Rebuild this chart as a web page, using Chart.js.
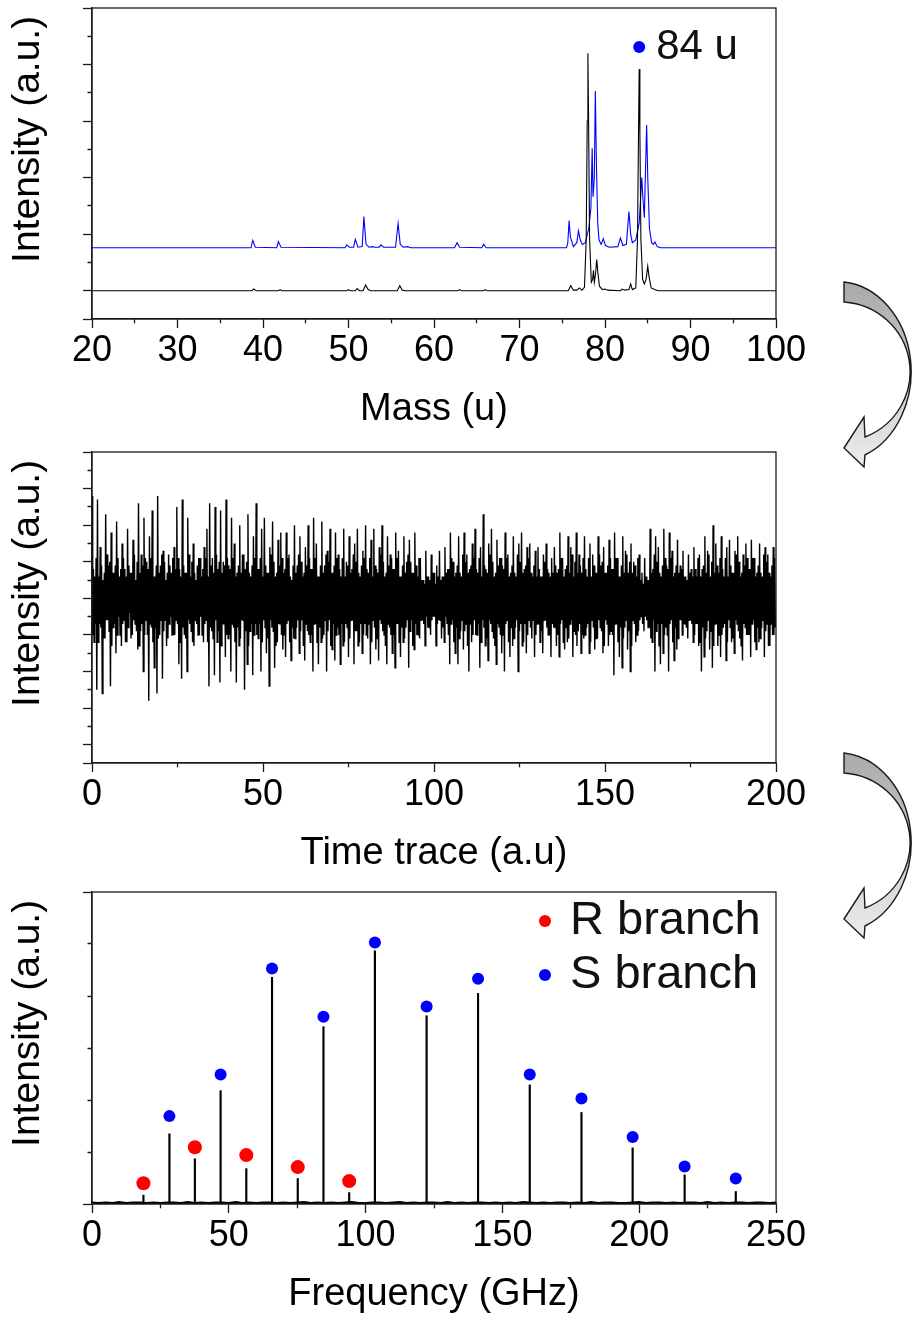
<!DOCTYPE html>
<html>
<head>
<meta charset="utf-8">
<title>Mass spectrum, time trace and rotational spectrum</title>
<script src="https://cdn.jsdelivr.net/npm/chart.js@4.4.1/dist/chart.umd.min.js"></script>
<style>
  html, body { margin: 0; padding: 0; background: #fff; }
  #wrap { position: relative; width: 912px; height: 1317px; overflow: hidden; }
  #wrap canvas { position: absolute; left: 0; }
  #arrows { position: absolute; left: 0; top: 0; pointer-events: none; }
</style>
</head>
<body>
<div id="wrap">
  <canvas id="massChart" width="912" height="440" style="top:0"></canvas>
  <canvas id="traceChart" width="912" height="440" style="top:440px"></canvas>
  <canvas id="freqChart" width="912" height="437" style="top:880px"></canvas>
  <svg id="arrows" width="912" height="1317" viewBox="0 0 912 1317">
    <defs>
      <linearGradient id="arrowFill" x1="0" y1="0" x2="0" y2="1">
        <stop offset="0" stop-color="#a9a9a9"/>
        <stop offset="0.45" stop-color="#c6c6c6"/>
        <stop offset="1" stop-color="#ededed"/>
      </linearGradient>
      <path id="bend" d="M 844 282 A 74 90 0 0 1 865 455 L 864 467 L 844 448 L 864 417 L 865 437 A 71 70 0 0 0 844 302 Z"
            fill="url(#arrowFill)" stroke="#1a1a1a" stroke-width="1.4" stroke-linejoin="miter"/>
    </defs>
    <use href="#bend"/>
    <use href="#bend" transform="translate(0 471)"/>
  </svg>
</div>
<script>
// ---- panel 1: mass spectra ----
const blackMass = [20, 38.7, 38.9, 39.2, 41.8, 42, 42.2, 49.8, 50, 50.2, 50.8, 51, 51.3, 51.7, 52, 52.3, 52.6,
  55.7, 56, 56.3, 56.6, 62.8, 63, 63.2, 65.8, 66, 66.2, 75.7, 76, 76.3, 76.7, 77, 77.3, 77.6, 77.8, 77.92, 78,
  78.08, 78.2, 78.4, 78.55, 78.65, 78.75, 78.9, 79.03, 79.15, 79.35, 79.7, 80, 80.3, 81.8, 82, 82.3, 82.8, 83,
  83.2, 83.6, 83.8, 83.92, 84, 84.08, 84.2, 84.4, 84.6, 84.8, 85, 85.15, 85.4, 85.8, 86.2, 100];
const blackInt = [0, 0, 0.03, 0, 0, 0.02, 0, 0, 0.02, 0, 0, 0.04, 0, 0, 0.1, 0.02, 0,
  0, 0.09, 0.01, 0, 0, 0.02, 0, 0, 0.02, 0, 0, 0.09, 0.01, 0.01, 0.05, 0.01, 0.06, 0.9, 3.0, 4.2,
  3.0, 0.9, 0.15, 0.2, 0.36, 0.15, 0.3, 0.55, 0.35, 0.08, 0.02, 0.03, 0.01, 0, 0.03, 0.01, 0.02, 0.12,
  0.02, 0.05, 0.9, 2.8, 3.92, 2.8, 0.9, 0.2, 0.12, 0.2, 0.43, 0.25, 0.05, 0.02, 0, 0];

const blueMass = [20, 38.6, 38.8, 39.1, 41.6, 41.8, 42.1, 49.6, 49.8, 50.1, 50.6, 50.8, 51.1, 51.6, 51.8, 52.05,
  52.4, 52.8, 53.1, 53.6, 53.8, 54.1, 55.5, 55.8, 56.05, 56.4, 56.9, 57.3, 62.4, 62.7, 63, 65.6, 65.8, 66.1,
  75.5, 75.65, 75.8, 75.95, 76.3, 76.7, 76.9, 77.1, 77.35, 77.7, 78.1, 78.35, 78.5, 78.6, 78.75, 78.87, 79.0,
  79.15, 79.3, 79.55, 79.8, 80.05, 80.5, 81.5, 81.8, 82.1, 82.5, 82.8, 83.0, 83.2, 83.6, 84.0, 84.3, 84.45,
  84.6, 84.75, 84.87, 85.0, 85.2, 85.45, 85.65, 85.85, 86.1, 86.5, 100];
const blueInt = [0.76, 0.76, 0.89, 0.77, 0.76, 0.87, 0.77, 0.76, 0.81, 0.77, 0.77, 0.91, 0.77, 0.78, 1.31, 0.82,
  0.77, 0.78, 0.77, 0.77, 0.81, 0.77, 0.77, 1.19, 0.82, 0.77, 0.78, 0.76, 0.76, 0.85, 0.77, 0.76, 0.82, 0.76,
  0.76, 0.85, 1.24, 0.95, 0.78, 0.85, 1.06, 0.9, 0.82, 0.85, 1.1, 1.46, 2.52, 1.66, 2.0, 3.53, 2.2,
  1.2, 0.9, 0.82, 0.92, 0.8, 0.77, 0.78, 0.93, 0.8, 0.82, 1.4, 1.0, 0.85, 0.9, 1.2, 2.0, 1.6,
  1.29, 2.2, 2.93, 2.0, 1.1, 0.85, 0.82, 0.86, 0.78, 0.76, 0.76];

const markerLabel = '84 u';
const markerMass = 84;
const markerLevel = 4.31;

// ---- panel 2: time trace, one sample every 0.2 ----
const traceStep = 0.2;
const traceSignal = [
  2.8,-1.0,0.8,-1.2, 0.6,-0.7,1.1,-2.5, 2.7,-1.2,0.6,-0.7, 1.4,-0.8,0.9,-2.6, 0.5,-1.1,0.7,-1.1, 2.3,-0.6,1.2,-0.6, 0.9,-0.9,1.0,-2.4, 1.8,-1.3,0.7,-0.8, 0.7,-0.7,0.9,-1.5, 2.1,-1.0,1.1,-0.5,
  0.6,-1.0,0.8,-1.3, 1.5,-0.7,1.1,-0.6, 0.8,-1.2,0.6,-1.2, 1.9,-0.8,0.9,-0.4, 0.7,-1.1,0.7,-1.0, 1.6,-0.6,1.2,-0.7, 0.5,-0.9,1.0,-1.4, 2.6,-1.3,0.7,-0.9, 1.2,-0.7,0.9,-2.0, 2.2,-1.0,1.1,-0.6,
  1.0,-1.0,0.8,-2.8, 1.7,-0.7,1.1,-0.8, 2.4,-1.2,0.6,-1.9, 0.6,-0.8,0.9,-2.6, 2.8,-1.1,0.7,-1.0, 0.9,-0.6,1.2,-2.2, 1.3,-0.9,1.0,-0.6, 0.5,-1.3,0.7,-1.1, 1.2,-0.7,0.9,-0.5, 0.7,-1.0,1.1,-1.0,
  1.4,-1.0,0.8,-0.6, 2.5,-0.7,1.1,-1.8, 0.8,-1.2,0.6,-2.2, 2.7,-0.8,0.9,-1.0, 0.7,-1.1,0.7,-2.0, 2.2,-0.6,1.2,-0.7, 0.6,-0.9,1.0,-1.2, 1.5,-1.3,0.7,-0.6, 0.5,-0.7,0.9,-1.0, 1.1,-1.0,1.1,-0.5,
  0.6,-1.0,0.8,-1.2, 1.4,-0.7,1.1,-0.6, 1.9,-1.2,0.6,-2.4, 2.6,-0.8,0.9,-0.9, 1.1,-1.1,0.7,-2.1, 2.5,-0.6,1.2,-1.2, 0.8,-0.9,1.0,-2.3, 2.4,-1.3,0.7,-0.7, 1.0,-0.7,0.9,-1.6, 2.7,-1.0,1.1,-1.1,
  0.9,-1.0,0.8,-2.0, 2.2,-0.7,1.1,-0.8, 1.5,-1.2,0.6,-2.3, 0.7,-0.8,0.9,-1.3, 2.0,-1.1,0.7,-0.6, 1.2,-0.6,1.2,-2.5, 0.8,-0.9,1.0,-1.8, 2.3,-1.3,0.7,-0.9, 0.6,-0.7,0.9,-2.1, 1.7,-1.0,1.1,-0.7,
  2.6,-1.0,0.8,-1.1, 0.8,-0.7,1.1,-2.0, 1.9,-1.2,0.6,-0.6, 2.2,-0.8,0.9,-1.5, 0.7,-1.1,0.7,-2.4, 1.4,-0.6,1.2,-0.8, 2.1,-0.9,1.0,-1.9, 0.6,-1.3,0.7,-1.2, 1.6,-0.7,0.9,-0.7, 1.8,-1.0,1.1,-1.4,
  0.7,-1.0,0.8,-1.6, 1.8,-0.7,1.1,-0.6, 1.2,-1.2,0.6,-1.7, 0.5,-0.8,0.9,-1.1, 2.0,-1.1,0.7,-0.8, 0.9,-0.6,1.2,-1.5, 1.7,-0.9,1.0,-0.6, 0.6,-1.3,0.7,-1.7, 1.4,-0.7,0.9,-0.9, 2.0,-1.0,1.1,-1.2,
  0.8,-1.0,0.8,-2.0, 2.2,-0.7,1.1,-0.7, 1.5,-1.2,0.6,-1.8, 0.6,-0.8,0.9,-1.2, 2.1,-1.1,0.7,-1.0, 0.9,-0.6,1.2,-2.0, 1.3,-0.9,1.0,-0.6, 1.9,-1.3,0.7,-1.4, 0.7,-0.7,0.9,-1.7, 1.8,-1.0,1.1,-0.8,
  1.2,-1.0,0.8,-1.8, 0.6,-0.7,1.1,-1.3, 1.9,-1.2,0.6,-0.7, 1.0,-0.8,0.9,-1.6, 1.7,-1.1,0.7,-0.6, 0.8,-0.6,1.2,-1.8, 1.5,-0.9,1.0,-0.9, 1.9,-1.3,0.7,-1.2, 0.6,-0.7,0.9,-1.5, 1.3,-1.0,1.1,-0.7,
  2.0,-1.0,0.8,-1.1, 0.7,-0.7,1.1,-1.8, 1.6,-1.2,0.6,-0.6, 1.9,-0.8,0.9,-1.4, 0.8,-1.1,0.7,-1.7, 1.4,-0.6,1.2,-0.7, 2.0,-0.9,1.0,-1.0, 0.6,-1.3,0.7,-1.8, 1.7,-0.7,0.9,-0.8, 1.2,-1.0,1.1,-1.5,
  0.8,-1.0,0.8,-1.9, 1.8,-0.7,1.1,-0.7, 1.3,-1.2,0.6,-1.6, 0.6,-0.8,0.9,-1.2, 1.7,-1.1,0.7,-0.8, 1.0,-0.6,1.2,-1.9, 1.6,-0.9,1.0,-0.6, 0.7,-1.3,0.7,-1.4, 1.8,-0.7,0.9,-1.0, 0.6,-1.0,1.1,-1.1,
  1.1,-0.6,0.5,-0.6, 0.5,-0.7,0.4,-1.3, 1.3,-0.5,0.6,-0.8, 0.6,-0.8,0.5,-1.0, 1.2,-0.6,0.7,-0.5, 0.7,-0.5,0.4,-1.3, 0.9,-0.7,0.6,-0.6, 1.3,-0.6,0.5,-1.1, 0.6,-0.8,0.6,-1.2, 1.4,-0.5,0.7,-0.7,
  0.8,-1.0,0.8,-1.8, 1.8,-0.7,1.1,-0.6, 1.0,-1.2,0.6,-1.5, 0.7,-0.8,0.9,-1.8, 1.7,-1.1,0.7,-0.9, 0.6,-0.6,1.2,-1.4, 1.8,-0.9,1.0,-0.7, 1.2,-1.3,0.7,-2.0, 0.8,-0.7,0.9,-1.2, 1.5,-1.0,1.1,-0.6,
  1.9,-1.0,0.8,-1.0, 0.7,-0.7,1.1,-1.9, 1.4,-1.2,0.6,-0.6, 2.3,-0.8,0.9,-1.3, 0.8,-1.1,0.7,-1.7, 1.5,-0.6,1.2,-0.7, 1.9,-0.9,1.0,-1.1, 0.6,-1.3,0.7,-1.8, 1.6,-0.7,0.9,-0.8, 1.1,-1.0,1.1,-1.5,
  0.9,-1.0,0.8,-2.0, 1.8,-0.7,1.1,-0.6, 1.2,-1.2,0.6,-1.6, 0.7,-0.8,0.9,-1.3, 1.7,-1.1,0.7,-0.8, 0.6,-0.6,1.2,-2.0, 1.5,-0.9,1.0,-0.7, 1.8,-1.3,0.7,-1.2, 0.8,-0.7,0.9,-1.5, 1.4,-1.0,1.1,-0.6,
  1.5,-0.8,0.7,-1.1, 0.6,-0.6,0.9,-1.6, 1.3,-1.0,0.6,-0.7, 1.4,-0.7,0.8,-1.2, 0.6,-0.9,0.6,-1.5, 1.2,-0.6,1.0,-0.6, 1.5,-0.8,0.8,-1.0, 0.7,-1.0,0.6,-1.6, 1.1,-0.7,0.7,-0.8, 1.4,-0.8,0.9,-1.3,
  0.7,-1.0,0.8,-1.6, 1.8,-0.7,1.1,-0.6, 1.1,-1.2,0.6,-1.4, 0.8,-0.8,0.9,-1.2, 1.7,-1.1,0.7,-0.7, 1.4,-0.6,1.2,-1.6, 0.6,-0.9,1.0,-1.0, 1.8,-1.3,0.7,-0.9, 1.2,-0.7,0.9,-1.5, 0.7,-1.0,1.1,-1.1,
  1.7,-1.0,0.8,-0.8, 0.6,-0.7,1.1,-1.5, 1.5,-1.2,0.6,-0.6, 1.2,-0.8,0.9,-1.4, 0.7,-1.1,0.7,-1.1, 1.7,-0.6,1.2,-0.8, 0.9,-0.9,1.0,-1.5, 1.4,-1.3,0.7,-0.6, 0.7,-0.7,0.9,-1.3, 1.6,-1.0,1.1,-0.9,
  0.8,-1.0,0.8,-2.1, 1.8,-0.7,1.1,-0.7, 1.1,-1.2,0.6,-1.6, 0.6,-0.8,0.9,-1.9, 1.7,-1.1,0.7,-0.8, 1.3,-0.6,1.2,-1.4, 0.7,-0.9,1.0,-2.0, 1.5,-1.3,0.7,-0.6, 1.0,-0.7,0.9,-1.2, 0.6,-1.0,1.1,-0.9,
  1.2,-0.6,0.5,-0.5, 0.7,-0.7,0.4,-0.9, 1.1,-0.5,0.6,-0.6, 0.5,-0.8,0.5,-0.8, 1.9,-1.1,0.7,-1.2, 0.8,-0.6,1.2,-2.0, 1.7,-0.9,1.0,-0.7, 1.4,-1.3,0.7,-1.8, 0.6,-0.7,0.9,-1.5, 1.9,-1.0,1.1,-0.8,
  0.9,-1.0,0.8,-2.0, 1.8,-0.7,1.1,-0.6, 1.3,-1.2,0.6,-1.7, 0.7,-0.8,0.9,-1.4, 1.6,-1.1,0.7,-0.6, 0.9,-0.6,0.8,-1.0, 1.3,-0.7,0.6,-0.7, 0.6,-0.8,0.5,-1.1, 1.2,-0.6,0.7,-0.6, 0.8,-0.7,0.6,-1.2,
  1.4,-1.0,0.8,-0.7, 0.6,-0.7,1.1,-1.3, 1.2,-1.2,0.6,-2.0, 0.8,-0.8,0.9,-1.6, 1.7,-1.1,0.7,-0.9, 1.3,-0.6,1.2,-1.4, 0.6,-0.9,1.0,-1.9, 2.0,-1.3,0.7,-0.7, 1.5,-0.7,0.9,-1.3, 0.7,-1.0,1.1,-1.6,
  1.7,-1.0,0.8,-0.8, 0.6,-0.7,1.1,-1.7, 1.4,-1.2,0.6,-0.6, 1.6,-0.8,0.9,-1.2, 0.7,-1.1,0.7,-1.5, 1.3,-0.6,1.2,-0.7, 1.7,-0.9,1.0,-1.1, 0.6,-1.3,0.7,-1.7, 1.2,-0.7,0.9,-0.8, 1.5,-1.0,1.1,-1.0,
  0.8,-1.0,0.8,-1.6, 1.6,-0.7,1.1,-0.6, 1.1,-1.2,0.6,-1.4, 0.7,-0.8,0.9,-1.2, 1.5,-1.1,0.7,-0.8, 0.6,-0.6,1.2,-1.6, 1.4,-0.9,1.0,-0.7, 1.2,-1.3,0.7,-1.3, 0.6,-0.7,0.9,-1.0, 1.4,-1.0,1.1,-0.8
];

// ---- panel 3: rotational lines ----
const rFreq = [18.8, 37.6, 56.4, 75.2, 94.0];
const rStem = [0.17, 0.87, 0.68, 0.49, 0.22];
const rDot = [0.40, 1.09, 0.94, 0.71, 0.44];
const sFreq = [28.3, 47.0, 65.8, 84.6, 103.4, 122.3, 141.1, 160.0, 178.9, 197.6, 216.6, 235.3];
const sStem = [1.35, 2.18, 4.36, 3.41, 4.87, 3.62, 4.05, 2.29, 1.76, 1.08, 0.56, 0.24];
const sDot = [1.69, 2.49, 4.53, 3.60, 5.03, 3.80, 4.33, 2.49, 2.03, 1.29, 0.72, 0.49];
// noise floor, one value every 2.5 GHz
const floorStep = 2.5;
const floorLevel = [0.03, 0.02, 0.03, 0.02, 0.04, 0.02, 0.03, 0.03, 0.02, 0.03, 0.02, 0.03, 0.03, 0.02, 0.04,
  0.02, 0.03, 0.02, 0.03, 0.03, 0.02, 0.04, 0.02, 0.03, 0.02, 0.03, 0.03, 0.02, 0.03, 0.02, 0.03, 0.04, 0.02,
  0.03, 0.02, 0.03, 0.02, 0.03, 0.04, 0.02, 0.02, 0.03, 0.03, 0.02, 0.03, 0.04, 0.02, 0.03, 0.02, 0.03, 0.03,
  0.02, 0.04, 0.02, 0.03, 0.02, 0.03, 0.03, 0.02, 0.03, 0.02, 0.03, 0.02, 0.04, 0.03, 0.02, 0.03, 0.02, 0.03,
  0.03, 0.02, 0.03, 0.02, 0.04, 0.02, 0.03, 0.03, 0.02, 0.02, 0.03, 0.04, 0.02, 0.03, 0.03, 0.02, 0.03, 0.02,
  0.03, 0.03, 0.02, 0.04, 0.02, 0.03, 0.02, 0.03, 0.03, 0.02, 0.03, 0.03, 0.02, 0.03];

// ---- shared look ----
const FONT = '"Liberation Sans", Arial, sans-serif';
const AXIS = '#1a1a1a';
Chart.defaults.font.family = FONT;
Chart.defaults.color = '#000';
Chart.defaults.animation = false;

const pts = (xs, ys) => xs.map((x, i) => ({ x, y: ys[i] }));

// short ticks: bottom axis draws away from the axis line, left axis draws toward it
function tickDash(side, isMinor) {
  return ctx => {
    if (!ctx.tick || !isMinor(ctx.tick.value, ctx.index)) return [];
    return side === 'x' ? [4, 100] : [0, 4.5, 10, 100];
  };
}

function xAxis(opts) {
  return {
    type: 'linear', min: opts.min, max: opts.max, offset: false,
    afterFit: s => { s.height = opts.height; },
    ticks: {
      stepSize: opts.step, autoSkip: false, maxRotation: 0, padding: 1,
      font: { size: 36 }, color: '#000',
      callback: v => (v % opts.labelEvery === 0 ? v : '')
    },
    grid: {
      drawOnChartArea: false, offset: false, tickLength: 9, tickWidth: 1.3, tickColor: AXIS,
      tickBorderDash: tickDash('x', v => v % opts.labelEvery !== 0)
    },
    border: { color: AXIS, width: 1.3 },
    title: { display: true, text: opts.title, font: { size: 38 }, color: '#000', padding: { top: 0, bottom: opts.titlePad } }
  };
}

function yAxis(opts) {
  return {
    type: 'linear', min: opts.min, max: opts.max,
    afterFit: s => { s.width = 92; },
    ticks: { stepSize: opts.step, display: false },
    grid: {
      drawOnChartArea: false, tickLength: 9, tickWidth: 1.3, tickColor: AXIS,
      tickBorderDash: tickDash('y', opts.isMinor)
    },
    border: { color: AXIS, width: 1.3 },
    title: {
      display: true, text: 'Intensity (a.u.)\u2009', align: 'end',
      font: { size: 39 }, color: '#000', padding: { top: 5 }
    }
  };
}

const framePlugin = {
  id: 'frame',
  afterDatasetsDraw(chart) {
    const { ctx, chartArea: a } = chart;
    ctx.save();
    ctx.strokeStyle = AXIS;
    ctx.lineWidth = 1.3;
    ctx.strokeRect(a.left, a.top, a.width, a.height);
    ctx.restore();
  }
};

const markerText = {
  id: 'markerText',
  afterDatasetsDraw(chart) {
    const meta = chart.getDatasetMeta(2);
    const p = meta.data[0];
    if (!p) return;
    const { ctx } = chart;
    ctx.save();
    ctx.font = '42px ' + FONT;
    ctx.fillStyle = '#111';
    ctx.textBaseline = 'middle';
    ctx.fillText(chart.data.datasets[2].label, p.x + 17, p.y);
    ctx.restore();
  }
};

const branchLegend = {
  id: 'branchLegend',
  afterDatasetsDraw(chart) {
    const { ctx, chartArea: a } = chart;
    const items = chart.data.datasets.filter(d => d.inLegend);
    ctx.save();
    ctx.font = '47px ' + FONT;
    ctx.textBaseline = 'middle';
    items.forEach((d, i) => {
      const x = a.right - 231;
      const y = a.top + 29 + i * 54;
      ctx.beginPath();
      ctx.arc(x, y, 6, 0, Math.PI * 2);
      ctx.fillStyle = d.pointBackgroundColor;
      ctx.fill();
      ctx.fillStyle = '#111';
      ctx.fillText(d.label, x + 25, y);
    });
    ctx.restore();
  }
};

const base = {
  responsive: false,
  devicePixelRatio: 1,
  events: [],
  plugins: { legend: { display: false }, tooltip: { enabled: false } }
};

new Chart(document.getElementById('massChart'), {
  type: 'scatter',
  data: {
    datasets: [
      { label: 'black', data: pts(blackMass, blackInt), showLine: true, borderColor: '#000', borderWidth: 1.1, pointRadius: 0 },
      { label: 'blue', data: pts(blueMass, blueInt), showLine: true, borderColor: '#0000ff', borderWidth: 1.1, pointRadius: 0 },
      { label: markerLabel, data: [{ x: markerMass, y: markerLevel }], pointRadius: 6, pointBorderWidth: 0, pointBackgroundColor: '#0000ff' }
    ]
  },
  options: {
    ...base,
    layout: { padding: { top: 8, right: 136, bottom: 0, left: 0 } },
    scales: {
      x: xAxis({ min: 20, max: 100, step: 5, labelEvery: 10, height: 121, title: 'Mass (u)', titlePad: 8 }),
      y: yAxis({ min: -0.5, max: 5, step: 0.5, isMinor: (v, i) => i !== 0 && v % 1 !== 0 })
    }
  },
  plugins: [framePlugin, markerText]
});

new Chart(document.getElementById('traceChart'), {
  type: 'scatter',
  data: {
    datasets: [
      { label: 'trace', data: traceSignal.map((v, i) => ({ x: i * traceStep, y: v })), showLine: true,
        borderColor: '#000', borderWidth: 1.4, pointRadius: 0 }
    ]
  },
  options: {
    ...base,
    layout: { padding: { top: 12, right: 136, bottom: 0, left: 0 } },
    scales: {
      x: xAxis({ min: 0, max: 200, step: 25, labelEvery: 50, height: 117, title: 'Time trace (a.u)', titlePad: 4 }),
      y: yAxis({ min: -4.5, max: 4, step: 0.5, isMinor: (v, i) => i !== 0 && v % 1 !== 0 })
    }
  },
  plugins: [framePlugin]
});

new Chart(document.getElementById('freqChart'), {
  type: 'scatter',
  data: {
    datasets: [
      { type: 'bar', label: 'lines', data: pts(rFreq.concat(sFreq), rStem.concat(sStem)),
        backgroundColor: '#000', barThickness: 1.5, grouped: false },
      { label: 'floor', data: floorLevel.map((v, i) => ({ x: i * floorStep, y: v })), showLine: true,
        borderColor: '#000', borderWidth: 2, pointRadius: 0 },
      { label: 'R branch', inLegend: true, data: pts(rFreq, rDot), pointRadius: 7, pointBorderWidth: 0,
        pointBackgroundColor: '#ff0000' },
      { label: 'S branch', inLegend: true, data: pts(sFreq, sDot), pointRadius: 6, pointBorderWidth: 0,
        pointBackgroundColor: '#0000ff' }
    ]
  },
  options: {
    ...base,
    layout: { padding: { top: 12, right: 136, bottom: 0, left: 0 } },
    scales: {
      x: xAxis({ min: 0, max: 250, step: 25, labelEvery: 50, height: 113, title: 'Frequency (GHz)', titlePad: 0 }),
      y: yAxis({ min: 0, max: 6, step: 1, isMinor: v => v !== 0 && v !== 6 })
    }
  },
  plugins: [framePlugin, branchLegend]
});
</script>
</body>
</html>
